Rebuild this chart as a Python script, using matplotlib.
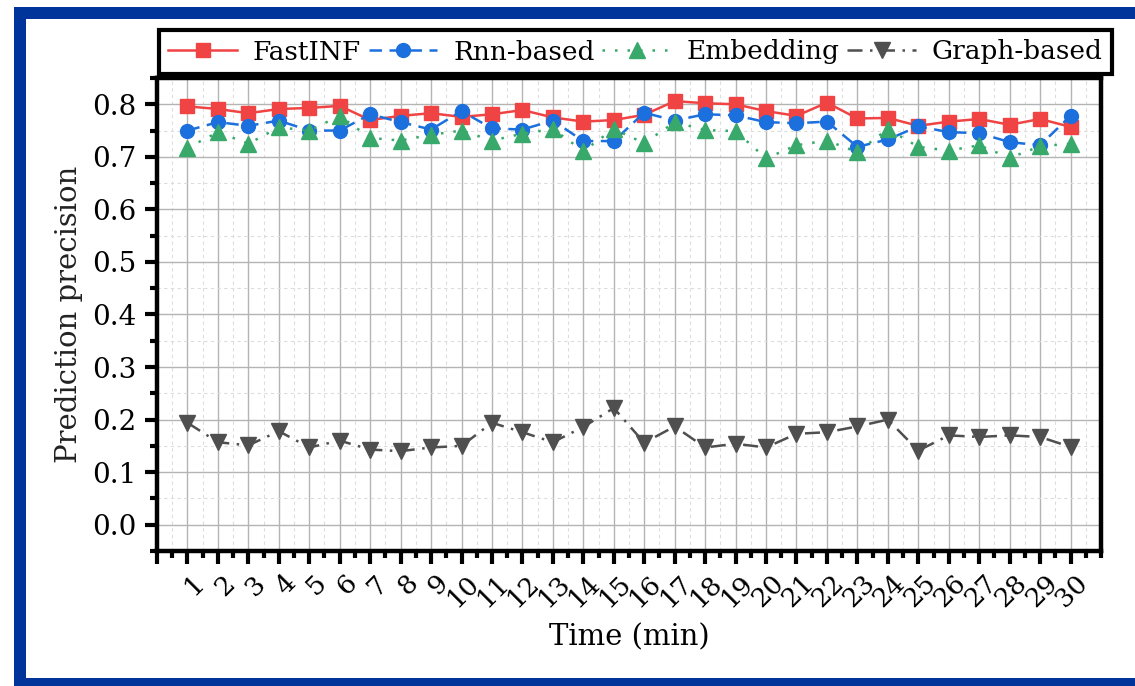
import numpy as np
import matplotlib
matplotlib.use("Agg")
import matplotlib.pyplot as plt
import matplotlib.transforms as mtransforms
from matplotlib.patches import Rectangle
from matplotlib.ticker import MultipleLocator, FormatStrFormatter

# data
minutes = list(range(1, 31))
fastinf = [0.796, 0.791, 0.783, 0.791, 0.793, 0.797, 0.770, 0.778, 0.783, 0.776,
           0.781, 0.789, 0.775, 0.767, 0.770, 0.780, 0.806, 0.802, 0.800, 0.787,
           0.778, 0.803, 0.773, 0.774, 0.759, 0.767, 0.772, 0.761, 0.772, 0.757]
rnn = [0.750, 0.766, 0.759, 0.769, 0.750, 0.750, 0.781, 0.766, 0.752, 0.787,
       0.754, 0.752, 0.769, 0.730, 0.730, 0.784, 0.769, 0.781, 0.779, 0.766,
       0.764, 0.767, 0.719, 0.733, 0.758, 0.747, 0.745, 0.728, 0.722, 0.778]
embedding = [0.717, 0.747, 0.725, 0.756, 0.750, 0.778, 0.736, 0.731, 0.742, 0.750,
             0.731, 0.744, 0.753, 0.711, 0.753, 0.726, 0.766, 0.751, 0.749, 0.697,
             0.722, 0.731, 0.709, 0.753, 0.719, 0.712, 0.722, 0.698, 0.720, 0.725]
graph = [0.194, 0.157, 0.151, 0.178, 0.147, 0.160, 0.143, 0.140, 0.147, 0.150,
         0.194, 0.176, 0.157, 0.186, 0.222, 0.156, 0.187, 0.147, 0.154, 0.147,
         0.173, 0.176, 0.187, 0.200, 0.141, 0.170, 0.167, 0.170, 0.167, 0.148]
labels = ["FastINF", "Rnn-based", "Embedding", "Graph-based"]

plt.rcParams['font.family'] = ['DejaVu Serif']

W, H = 1135, 686
fig = plt.figure(figsize=(W / 100, H / 100), dpi=100)

def fx(px):
    return px / W

def fy(py):
    return 1 - py / H

# dark blue frame around the picture
blue = '#00349a'
fig.add_artist(Rectangle((fx(14), fy(19)), fx(1135 - 14), 12 / H, transform=fig.transFigure,
                         color=blue, lw=0))
fig.add_artist(Rectangle((fx(14), fy(686)), fx(12), 667 / H, transform=fig.transFigure,
                         color=blue, lw=0))
fig.add_artist(Rectangle((fx(14), fy(686)), fx(1135 - 14), 8 / H, transform=fig.transFigure,
                         color=blue, lw=0))

ax = fig.add_axes([fx(157), fy(551), fx(1101 - 157), (551 - 78) / H])

ax.plot(minutes, fastinf, color='#f04344', lw=1.8, ls='-', marker='s', ms=9.5,
        label=labels[0])
ax.plot(minutes, rnn, color='#1c70dd', lw=1.8, ls=(0, (5, 3)), marker='o', ms=10,
        label=labels[1])
ax.plot(minutes, embedding, color='#38a96a', lw=1.8, ls=(0, (1, 4)), marker='^', ms=11,
        label=labels[2])
ax.plot(minutes, graph, color='#4f4f4f', lw=1.8, ls=(0, (6, 3, 1, 3)), marker='v', ms=11,
        label=labels[3])

ax.set_xlim(0, 31)
ax.set_ylim(-0.05, 0.85)
# major tick at 0 on x too (no label)
ax.set_xticks([0] + minutes)
ax.set_xticklabels([''] + [str(m) for m in minutes], rotation=45, ha='right', va='top',
                   fontsize=19)
ax.xaxis.set_minor_locator(MultipleLocator(0.5))
ax.yaxis.set_major_locator(MultipleLocator(0.1))
ax.yaxis.set_minor_locator(MultipleLocator(0.05))
ax.yaxis.set_major_formatter(FormatStrFormatter('%.1f'))

ax.tick_params(axis='both', which='major', direction='out', length=9, width=3, color='black')
ax.tick_params(axis='both', which='minor', direction='out', length=5, width=3, color='black')
ax.tick_params(axis='y', labelsize=20, pad=6)
ax.tick_params(axis='x', pad=5)

offset = mtransforms.ScaledTranslation(22 / 100, 0, fig.dpi_scale_trans)
for lab in ax.get_xticklabels():
    lab.set_transform(lab.get_transform() + offset)

for s in ax.spines.values():
    s.set_linewidth(3.2)

ax.grid(which='major', color='#b4b4b4', lw=1.0, ls='-')
ax.grid(which='minor', color='#dcdcdc', lw=0.8, ls=(0, (3, 3)))
ax.set_axisbelow(True)

ax.set_xlabel('Time (min)', fontsize=21, labelpad=8)
ax.set_ylabel('Prediction precision', fontsize=21, color='#222222', labelpad=6)

leg = fig.legend(loc='center', ncol=4, mode='expand', fontsize=19,
                 bbox_to_anchor=(fx(159), fy(72), fx(1112 - 159), 40 / H),
                 bbox_transform=fig.transFigure, borderaxespad=0,
                 handlelength=2.6, handletextpad=0.6, frameon=True, fancybox=False,
                 framealpha=1, borderpad=0.35)
leg.get_frame().set_edgecolor('black')
leg.get_frame().set_linewidth(3)

fig.savefig('out.png', dpi=100)
